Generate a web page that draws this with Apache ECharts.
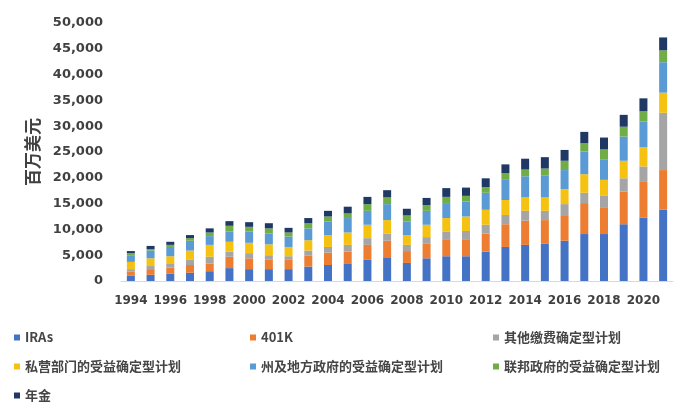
<!DOCTYPE html>
<html>
<head>
<meta charset="utf-8">
<script src="https://cdn.jsdelivr.net/npm/echarts@6/dist/echarts.min.js"></script>
<style>
html,body{margin:0;padding:0;background:#fff;}
#c{width:700px;height:420px;}
</style>
</head>
<body>
<div id="c"></div>
<script>
var years = ['1994','1995','1996','1997','1998','1999','2000','2001','2002','2003','2004','2005','2006','2007','2008','2009','2010','2011','2012','2013','2014','2015','2016','2017','2018','2019','2020','2021'];
var iras      = [1000,1200,1400,1600,1900,2500,2300,2300,2300,2800,3100,3300,4100,4600,3500,4400,4800,4800,5700,6600,7000,7200,7800,9100,9100,11000,12300,13800];
var k401      = [800,1100,1200,1500,1500,2200,2100,1900,1800,2100,2400,2400,2900,3200,2300,2800,3300,3300,3500,4400,4700,4600,4800,6000,5200,6300,6900,7700];
var otherDC   = [500,600,700,1000,1300,1000,1000,800,700,1000,1100,1300,1300,1400,1200,1300,1500,1600,1700,1800,1900,1800,2300,2000,2200,2600,3000,11100];
var privateDB = [1400,1500,1500,1800,2300,1900,2000,2100,1800,2000,2300,2400,2600,2600,1900,2400,2600,2800,2900,2900,2600,2600,2900,3600,3100,3400,3700,3900];
var stateDB   = [1300,1500,1800,1900,1700,2000,2200,2100,2000,2300,2600,2800,2700,3100,2600,2700,2900,2900,3300,3900,4100,4200,3700,4400,4000,4700,5000,5900];
var federalDB = [400,300,400,500,700,1100,900,1000,800,1000,1000,900,1300,1300,1200,1100,1200,1100,1100,1300,1300,1400,1800,1600,1900,1900,2000,2300];
var annuities = [400,600,600,600,800,900,900,1000,900,1000,1100,1300,1400,1400,1300,1400,1700,1600,1700,1700,2100,2200,2100,2200,2300,2300,2500,2500];
var yTicks = [0,5000,10000,15000,20000,25000,30000,35000,40000,45000,50000];

var names = ['IRAs','401K','其他缴费确定型计划','私营部门的受益确定型计划','州及地方政府的受益确定型计划','联邦政府的受益确定型计划','年金'];
var colors = ['#4472C4','#ED7D31','#A5A5A5','#F5C211','#5B9BD5','#70AD47','#203864'];
var dataSets = [iras,k401,otherDC,privateDB,stateDB,federalDB,annuities];

var series = names.map(function(n,i){
  return {name:n,type:'bar',stack:'total',barWidth:8,data:dataSets[i],itemStyle:{color:colors[i]}};
});

var legendText = {fontFamily:'"Noto Sans CJK SC","DejaVu Sans",sans-serif',fontSize:13,fontWeight:'bold',color:'#454545'};
function mkLegend(data,left){
  return {data:data,orient:'vertical',left:left,top:331,itemWidth:6,itemHeight:6,icon:'rect',itemGap:16,textStyle:legendText,padding:0,selectedMode:false};
}

var chart = echarts.init(document.getElementById('c'),null,{renderer:'canvas'});
chart.setOption({
  animation:false,
  color:colors,
  grid:{left:121,right:27,top:23,bottom:139,containLabel:false},
  legend:[
    mkLegend([names[0],names[3],names[6]],14),
    mkLegend([names[1],names[4]],250),
    mkLegend([names[2],names[5]],493)
  ],
  xAxis:{type:'category',data:years,
    axisLine:{lineStyle:{color:'#d9d9d9'}},axisTick:{show:false},
    axisLabel:{interval:1,margin:14,fontFamily:'"DejaVu Sans",sans-serif',fontSize:12,fontWeight:'bold',color:'#404040'}},
  yAxis:{type:'value',min:0,max:50000,interval:5000,
    name:'百万美元',nameLocation:'middle',nameRotate:90,nameGap:80,
    nameTextStyle:{fontFamily:'"Noto Sans CJK SC",sans-serif',fontSize:17,fontWeight:'bold',color:'#404040'},
    axisLine:{show:false},axisTick:{show:false},splitLine:{show:false},
    axisLabel:{margin:18,fontFamily:'"DejaVu Sans",sans-serif',fontSize:13,fontWeight:'bold',color:'#404040',
      formatter:function(v){return yTicks.indexOf(v)>=0 ? v.toLocaleString('en-US') : '';}}},
  series:series
});
</script>
</body>
</html>
